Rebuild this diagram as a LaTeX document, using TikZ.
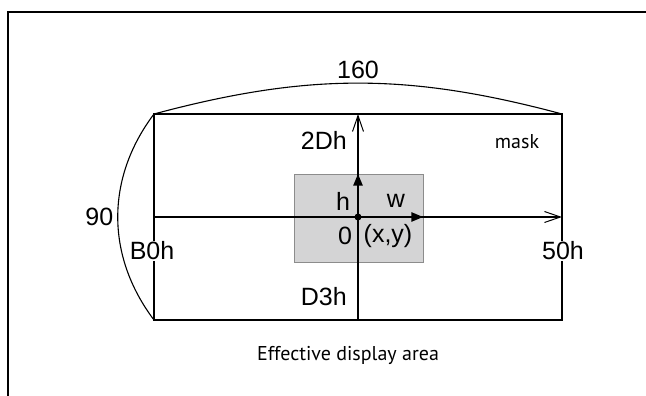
\documentclass[tikz,border=0pt]{standalone}
\usepackage{fontspec}
\setmainfont{Liberation Sans}
\newfontfamily\notefont{PT Sans}
\usetikzlibrary{arrows.meta,positioning}
\definecolor{wingray}{HTML}{D4D4D5}
\tikzset{
  lbl/.style={font=\fontsize{25}{30}\selectfont, inner sep=1pt},
  note/.style={font=\notefont\fontsize{20}{24}\selectfont, inner sep=1pt},
  axis/.style={line width=1.1pt, -{Straight Barb[length=16pt,width=11pt,line width=1pt]}},
  vec/.style={line width=2.6pt, -{Triangle[length=12pt,width=9pt]}},
  outline/.style={line width=1.1pt},
  frame/.style={line width=1.8pt},
  win/.style={rectangle, fill=wingray, draw=black!45, line width=0.6pt, inner sep=0pt, minimum width=129pt, minimum height=88pt},
}
\begin{document}
\begin{tikzpicture}[x=1pt,y=1pt]
  \useasboundingbox (0,0) rectangle (646,396);
  % page frame
  \coordinate (fr) at (646,384);
  \coordinate (fc) at (8,384);
  \coordinate (fb) at (8,0);
  \draw[frame] (fr) -- (fc) -- (fb);
  % mask corners
  \coordinate (tl) at (154,282);
  \coordinate (tr) at (562,282);
  \coordinate (bl) at (154,76);
  \coordinate (br) at (562,76);
  \node[win] (window) at (358.5,178) {};
  \node[circle, fill=black, inner sep=0pt, minimum size=7pt] (origin) at (358,179) {};
  % axes
  \draw[axis] (origin.center -| tl) -- (origin.center -| tr);
  \draw[axis] (origin.center |- bl) -- (origin.center |- tl);
  \draw[outline] (tl) rectangle (br);
  \draw[outline] (tl) to[bend left=15] node[lbl, midway, above=3pt] (wide) {160} (tr);
  \draw[outline] (tl) to[bend right=37] node[lbl, midway, left=3pt] (high) {90} (bl);
  % labels
  \node[lbl, fill=white] (left) at (152,145) {B0h};
  \node[lbl, fill=white] (right) at (563,145) {50h};
  \node[lbl, anchor=east] (up) at (348,256) {2Dh};
  \node[lbl, anchor=east] (down) at (348,99) {D3h};
  \node[note] (mask) at (517,254) {mask};
  % window size
  \draw[vec] (origin.center) -- (origin.center |- window.north);
  \draw[vec] (origin.center) -- (origin.center -| window.east);
  \node[lbl] (hlbl) at (343,195) {h};
  \node[lbl] (wlbl) at (396,195) {w};
  \node[lbl] (zero) at (345,160) {0};
  \node[lbl] (pos) at (388,160) {(x,y)};
  \node[note] (area) at (348,41) {Effective display area};
\end{tikzpicture}
\end{document}
